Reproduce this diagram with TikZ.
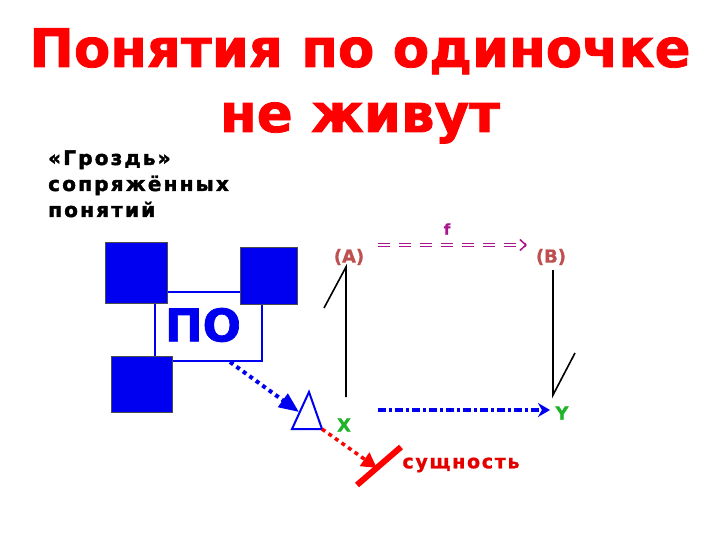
\documentclass[tikz,border=0pt]{standalone}
\usepackage{fontspec}
\setmainfont{DejaVu Sans}
\usetikzlibrary{arrows.meta}
\usetikzlibrary{calc}

\definecolor{titlered}{RGB}{255,0,0}
\definecolor{sqblue}{RGB}{0,0,240}
\definecolor{letterred}{RGB}{190,80,80}
\definecolor{fpurple}{RGB}{170,20,140}
\definecolor{xgreen}{RGB}{30,180,40}

\tikzset{
  heading/.style={font=\fontsize{53}{60}\selectfont\bfseries\addfontfeature{FakeBold=1.5}, text=titlered, inner sep=0pt, anchor=base},
  note/.style={font=\fontsize{20}{26}\selectfont\bfseries\addfontfeature{LetterSpace=11, FakeBold=2}, align=left, inner sep=0pt, anchor=base west},
  sq/.style={fill=sqblue, draw=black!70, line width=0.8pt},
  letter/.style={font=\fontsize{18}{18}\selectfont\bfseries\addfontfeature{FakeBold=0.8}, inner sep=0pt},
  stick/.style={line width=1.6pt, black},
  dotline/.style={line width=4pt, dash pattern=on 4pt off 4pt}
}

\begin{document}
\begin{tikzpicture}[x=1pt,y=-1pt]
		\useasboundingbox (0,0) rectangle (720,540);

		\node[heading] (t1) at (360,67) {Понятия по одиночке};
		\node[heading] (t2) at (360,132) {не живут};

		\node[note] (grozd) at (48,217) {«Гроздь»\\сопряжённых\\понятий};

		% the cluster
		\node[draw=sqblue, line width=2.5pt, minimum width=107pt, minimum height=69pt, inner sep=0pt] (po) at (208.5,326.5) {};
		\node[font=\fontsize{45}{45}\selectfont\bfseries\addfontfeature{FakeBold=1.5}, text=sqblue, inner sep=0pt] (potext) at (203,325) {ПО};
		\draw[sq] (105,242) rectangle (167,303);
		\draw[sq] (240,247) rectangle (297,304);
		\draw[sq] (111,356) rectangle (172,412);

		\coordinate (tritop) at (309,392);
		\coordinate (trileft) at (292,429);
		\coordinate (triright) at (322,429);
		\draw[sqblue, line width=2pt, line join=miter] (tritop) -- (trileft) -- (triright) -- cycle;

		% letters
		\node[letter, text=letterred] (A) at (349,257) {(A)};
		\node[letter, text=letterred] (B) at (551,257) {(B)};
		\node[letter, text=fpurple, font=\fontsize{15}{15}\selectfont\bfseries\addfontfeature{FakeBold=0.8}] (f) at (447,229) {f};
		\node[letter, text=xgreen] (X) at (344,425) {X};
		\node[letter, text=xgreen] (Y) at (562,413) {Y};
		\node[letter, text=red!90!black, font=\fontsize{19}{19}\selectfont\bfseries\addfontfeature{LetterSpace=9, FakeBold=1.2}] (ess) at (461,465) {сущность};

		% sticks
		\coordinate (Atop) at (346,267);
		\coordinate (Xtop) at (346,397);
		\coordinate (Aslant) at (324,308);
		\coordinate (Btop) at (553,270);
		\coordinate (Ybot) at (553,395);
		\coordinate (Bslant) at (575,353);
		\draw[stick] (Aslant) -- (Atop) -- (Xtop);
		\draw[stick] (Btop) -- (Ybot) -- (Bslant);

		% arrows
		\coordinate (fstart) at (378,245);
		\coordinate (fend) at (527,245);
		\draw[fpurple, double, double distance=1.4pt, line width=0.9pt, dash pattern=on 12pt off 9pt,
			-{Straight Barb[length=6pt, width=11pt, line width=1.5pt]}] (fstart) -- (fend);

		\coordinate (xystart) at (378,410);
		\coordinate (xyend) at (550,410);
		\draw[sqblue, line width=3.5pt, dash pattern=on 8pt off 3pt on 3pt off 3pt,
			-{Stealth[length=12pt, width=14pt]}] (xystart) -- (xyend);

		\coordinate (pocorner) at (230,362);
		\coordinate (triarrow) at (299,412);
		\draw[sqblue, dotline, -{Triangle[length=20pt, width=16pt]}] (pocorner) -- (triarrow);

		\coordinate (barlow) at (357,485);
		\coordinate (barhigh) at (401,447);
		\coordinate (barmid) at ($(barlow)!0.45!(barhigh)$);
		\draw[red, dotline, line width=3.5pt, -{Triangle[length=15pt, width=16pt]}] (triright) -- (barmid);
		\draw[red, line width=6pt] (barlow) -- (barhigh);
\end{tikzpicture}
\end{document}
